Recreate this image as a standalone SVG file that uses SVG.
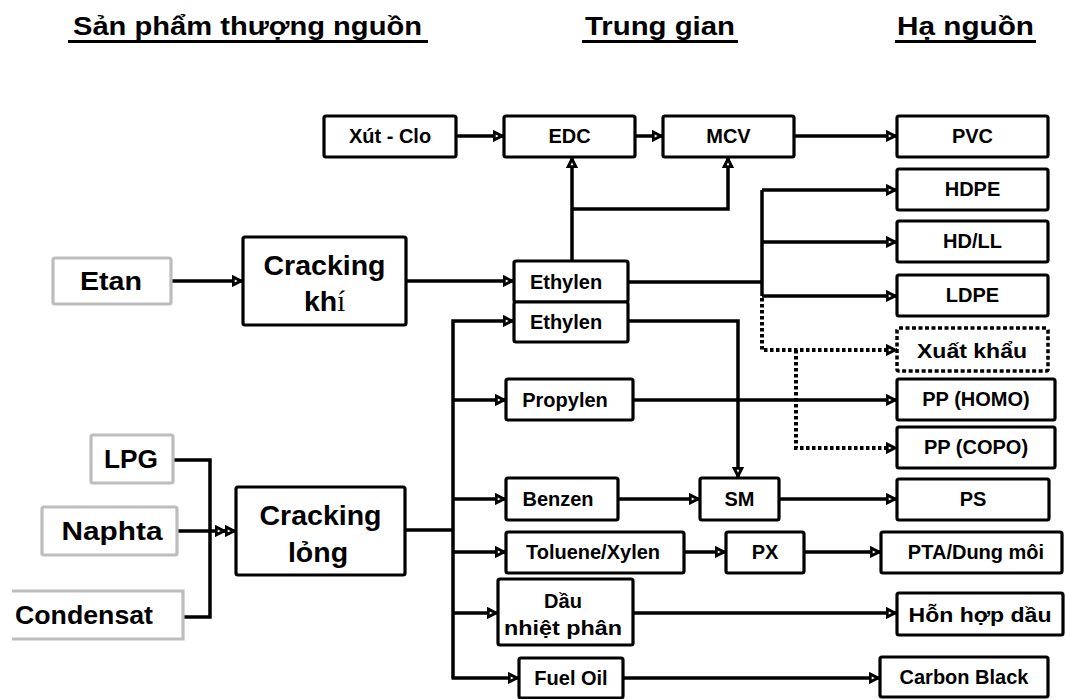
<svg xmlns="http://www.w3.org/2000/svg" width="1066" height="699" viewBox="0 0 1066 699">
<style>
.b{fill:#fff;stroke:#000;stroke-width:3.2}
.g{fill:#fff;stroke:#bdbdbd;stroke-width:3.2}
.d{fill:#fff;stroke:#000;stroke-width:3.5;stroke-dasharray:4 2.5}
.t{font-family:"Liberation Sans",Arial,sans-serif;font-weight:bold;font-size:20px;fill:#000;text-anchor:middle}
.c{font-family:"Liberation Sans",Arial,sans-serif;font-weight:bold;font-size:20px;fill:#000;text-anchor:middle}
.big{font-size:28.5px}
.in{font-size:25px}
.h{font-family:"Liberation Sans",Arial,sans-serif;font-weight:bold;font-size:25px;fill:#000}
.ln{fill:none;stroke:#000;stroke-width:3.5}
.dl{fill:none;stroke:#000;stroke-width:4;stroke-dasharray:3.5 2.5}
.a{marker-end:url(#ah)}
</style>
<defs>
<marker id="ah" viewBox="0 0 13 12" refX="11.5" refY="6" markerWidth="13" markerHeight="12" markerUnits="userSpaceOnUse" orient="auto">
<path d="M1.5,1.5 L10.5,6 L1.5,10.5 z" fill="#000" stroke="#000" stroke-width="2" stroke-linejoin="miter"/>
<path d="M3.2,4.6 L6.2,6 L3.2,7.4 z" fill="#fff"/>
</marker>
</defs>

<g id="headers">
<text class="h" x="73" y="35" textLength="349" lengthAdjust="spacingAndGlyphs">Sản phẩm thượng nguồn</text>
<rect x="68" y="40" width="360" height="3" fill="#000"/>
<text class="h" x="585" y="35" textLength="150" lengthAdjust="spacingAndGlyphs">Trung gian</text>
<rect x="582" y="40" width="156" height="3" fill="#000"/>
<text class="h" x="897" y="35" textLength="137" lengthAdjust="spacingAndGlyphs">Hạ nguồn</text>
<rect x="895" y="40" width="141" height="3" fill="#000"/>
</g>

<g id="connectors">
<path class="ln a" d="M457,136 H504"/>
<path class="ln a" d="M635,136 H663"/>
<path class="ln a" d="M794,136 H897"/>
<path class="ln a" d="M572,261 V157"/>
<path class="ln a" d="M572,209 H728 V157"/>
<path class="ln a" d="M171,281 H243"/>
<path class="ln a" d="M406,281 H514"/>
<path class="ln" d="M628,282 H762"/>
<path class="ln" d="M762,190 V296"/>
<path class="ln a" d="M762,190 H897"/>
<path class="ln a" d="M762,242 H897"/>
<path class="ln a" d="M762,296 H897"/>
<path class="dl a" d="M762,298 V350 H897"/>
<path class="dl a" d="M796,350 V448 H897"/>
<path class="ln a" d="M628,321 H738 V478"/>
<path class="ln a" d="M633,400 H897"/>
<path class="ln a" d="M453,678 V321 H514"/>
<path class="ln a" d="M453,400 H506"/>
<path class="ln a" d="M453,499 H506"/>
<path class="ln a" d="M453,552 H506"/>
<path class="ln a" d="M453,613 H498"/>
<path class="ln a" d="M451.5,678 H519"/>
<path class="ln" d="M405,530 H453"/>
<path class="ln" d="M173,460 H210 V617 H183"/>
<path class="ln a" d="M177,531 H226" />
<path class="ln a" d="M224,531 H236" />
<path class="ln a" d="M618,499 H700"/>
<path class="ln a" d="M779,499 H897"/>
<path class="ln a" d="M684,552 H726"/>
<path class="ln a" d="M804,552 H881"/>
<path class="ln a" d="M633,613 H897"/>
<path class="ln a" d="M623,678 H880"/>
</g>

<g id="xutclo"><rect class="b" x="324" y="116" width="132" height="41" rx="2"/><text class="t" x="390" y="143">Xút - Clo</text></g>
<g id="edc"><rect class="b" x="504" y="116" width="131" height="41" rx="2"/><text class="t" x="569.5" y="143">EDC</text></g>
<g id="mcv"><rect class="b" x="663" y="116" width="131" height="41" rx="2"/><text class="t" x="728.5" y="143">MCV</text></g>
<g id="pvc"><rect class="b" x="897" y="116" width="151" height="41" rx="2"/><text class="t" x="972.5" y="143">PVC</text></g>
<g id="hdpe"><rect class="b" x="897" y="169" width="151" height="41" rx="2"/><text class="t" x="972.5" y="196">HDPE</text></g>
<g id="hdll"><rect class="b" x="897" y="221" width="151" height="41" rx="2"/><text class="t" x="972.5" y="248">HD/LL</text></g>
<g id="ldpe"><rect class="b" x="897" y="275" width="151" height="41" rx="2"/><text class="t" x="972.5" y="302">LDPE</text></g>
<g id="xuatkhau"><rect class="d" x="897" y="328" width="151" height="43" rx="2"/><text class="c" x="972" y="358" textLength="110" lengthAdjust="spacingAndGlyphs">Xuất khẩu</text></g>
<g id="pphomo"><rect class="b" x="897" y="379" width="158" height="41" rx="2"/><text class="t" x="976" y="406">PP (HOMO)</text></g>
<g id="ppcopo"><rect class="b" x="897" y="427" width="158" height="41" rx="2"/><text class="t" x="976" y="454">PP (COPO)</text></g>
<g id="ps"><rect class="b" x="897" y="479" width="152" height="41" rx="2"/><text class="t" x="973" y="506">PS</text></g>
<g id="pta"><rect class="b" x="881" y="532" width="181" height="41" rx="2"/><text class="t" x="976" y="559">PTA/Dung môi</text></g>
<g id="honhopdau"><rect class="b" x="897" y="593" width="166" height="42" rx="2"/><text class="c" x="980" y="622" textLength="143" lengthAdjust="spacingAndGlyphs">Hỗn hợp dầu</text></g>
<g id="carbonblack"><rect class="b" x="880" y="657" width="168" height="40" rx="2"/><text class="t" x="964" y="684">Carbon Black</text></g>

<g id="etan"><rect class="g" x="53" y="258" width="118" height="46" rx="2"/><text class="t in" x="111" y="290" textLength="62" lengthAdjust="spacingAndGlyphs">Etan</text></g>
<g id="crackingkhi"><rect class="b" x="243" y="237" width="163" height="88" rx="2"/><text class="t big" x="324.5" y="275">Cracking</text><text class="t big" x="324.5" y="311">kh<tspan font-family="Liberation Serif,serif" font-weight="normal">í</tspan></text></g>
<g id="lpg"><rect class="g" x="91" y="435" width="82" height="48" rx="2"/><text class="t in" x="131" y="468" textLength="54" lengthAdjust="spacingAndGlyphs">LPG</text></g>
<g id="naphta"><rect class="g" x="42" y="507" width="135" height="48" rx="2"/><text class="t in" x="112" y="540" textLength="101" lengthAdjust="spacingAndGlyphs">Naphta</text></g>
<g id="condensat"><path d="M12,591 H183 V639 H12" fill="#fff" stroke="#bdbdbd" stroke-width="3.2"/><text class="t in" x="84" y="624" textLength="138" lengthAdjust="spacingAndGlyphs">Condensat</text></g>
<g id="crackinglong"><rect class="b" x="236" y="487" width="169" height="88" rx="2"/><text class="t big" x="320.5" y="525">Cracking</text><text class="t big" x="318" y="562">lỏng</text></g>

<g id="ethylen1"><rect class="b" x="514" y="261" width="114" height="41" rx="2"/><text class="t" x="566" y="289">Ethylen</text></g>
<g id="ethylen2"><rect class="b" x="514" y="302" width="114" height="40" rx="2"/><text class="t" x="566" y="329">Ethylen</text></g>
<g id="propylen"><rect class="b" x="506" y="379" width="127" height="41" rx="2"/><text class="t" x="565" y="407">Propylen</text></g>
<g id="benzen"><rect class="b" x="506" y="478" width="112" height="42" rx="2"/><text class="t" x="558" y="506">Benzen</text></g>
<g id="sm"><rect class="b" x="700" y="478" width="79" height="42" rx="2"/><text class="t" x="739.5" y="506">SM</text></g>
<g id="toluene"><rect class="b" x="506" y="532" width="178" height="41" rx="2"/><text class="t" x="593" y="559">Toluene/Xylen</text></g>
<g id="px"><rect class="b" x="726" y="532" width="78" height="41" rx="2"/><text class="t" x="765" y="559">PX</text></g>
<g id="daunhietphan"><rect class="b" x="498" y="579" width="135" height="66" rx="2"/><text class="c" x="563" y="608">Dầu</text><text class="c" x="563" y="635" textLength="118" lengthAdjust="spacingAndGlyphs">nhiệt phân</text></g>
<g id="fueloil"><rect class="b" x="519" y="658" width="104" height="40" rx="2"/><text class="t" x="571" y="685">Fuel Oil</text></g>
</svg>
